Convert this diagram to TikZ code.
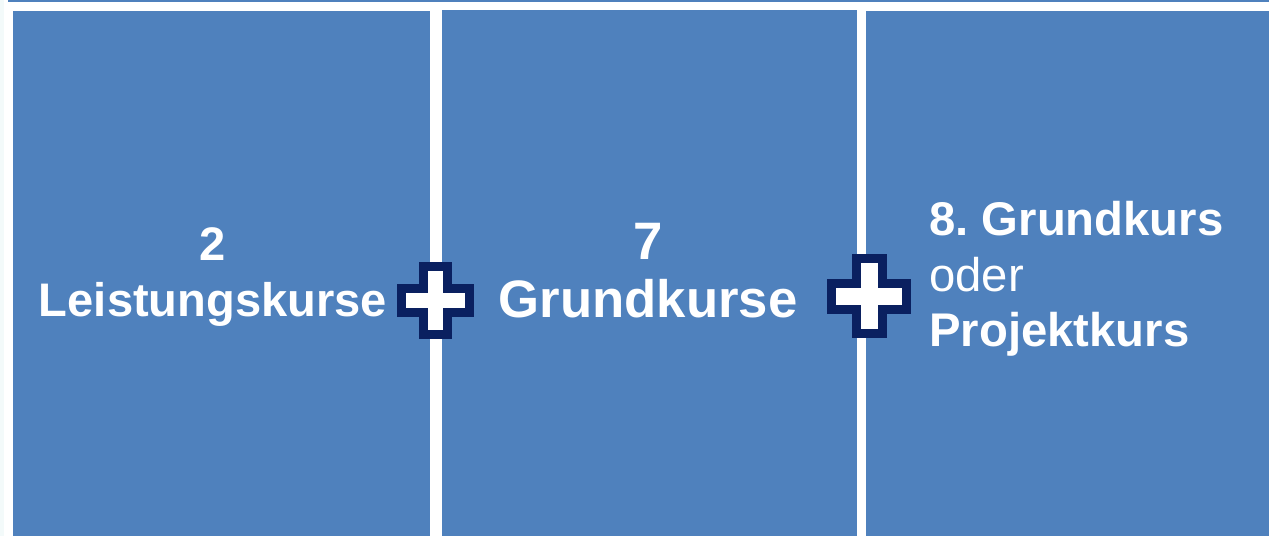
\documentclass[tikz,border=0pt]{standalone}
\usepackage{fontspec}
\setmainfont{Liberation Sans}
\definecolor{kursblau}{HTML}{4F81BD}
\definecolor{kursnavy}{HTML}{0A2060}
\definecolor{randhell}{HTML}{F3FAFA}
\begin{document}
\begin{tikzpicture}[x=0.02cm, y=-0.02cm,
        kursbox/.style={fill=kursblau, inner sep=0pt, outer sep=0pt, anchor=north west},
        kurstext/.style={text=white, inner sep=0pt, anchor=base},
        plussign/.style={draw=kursnavy, fill=white, line width=0.18cm, line join=miter},
        ]

        % Frame
        \useasboundingbox (0,0) rectangle (1269,536);
        \fill[randhell] (0,0) rectangle (4,536);
        \fill[kursblau] (8,0) rectangle (1269,2);

        % Boxes
        \node[kursbox, minimum width=8.34cm, minimum height=10.5cm] (lk) at (13,11) {};
        \node[kursbox, minimum width=8.3cm, minimum height=10.52cm] (gk) at (442,10) {};
        \node[kursbox, minimum width=8.06cm, minimum height=10.5cm] (pk) at (866,11) {};

        % Labels
        \node[kurstext, align=center, font=\fontsize{26.8}{32.3}\selectfont\bfseries] (lktext) at (213,317) {2\\Leistungskurse};
        \node[kurstext, align=center, font=\fontsize{30}{33.4}\selectfont\bfseries] (gktext) at (648,318) {7\\Grundkurse};
        \node[kurstext, align=left, anchor=base west, font=\fontsize{26.9}{31.7}\selectfont] (pktext) at (929,347) {\textbf{8.\ Grundkurs}\\oder\\\textbf{Projektkurs}};

        % Plus signs
        \coordinate (plus1) at (435,300.5);
        \coordinate (plus2) at (869,296.5);
        \foreach \p/\e/\a in {plus1/34/12, plus2/37.5/13}
          \draw[plussign, shift={(\p)}] (-\e,-\a) -- (-\a,-\a) -- (-\a,-\e) -- (\a,-\e) -- (\a,-\a) -- (\e,-\a)
            -- (\e,\a) -- (\a,\a) -- (\a,\e) -- (-\a,\e) -- (-\a,\a) -- (-\e,\a) -- cycle;

    \end{tikzpicture}
\end{document}
